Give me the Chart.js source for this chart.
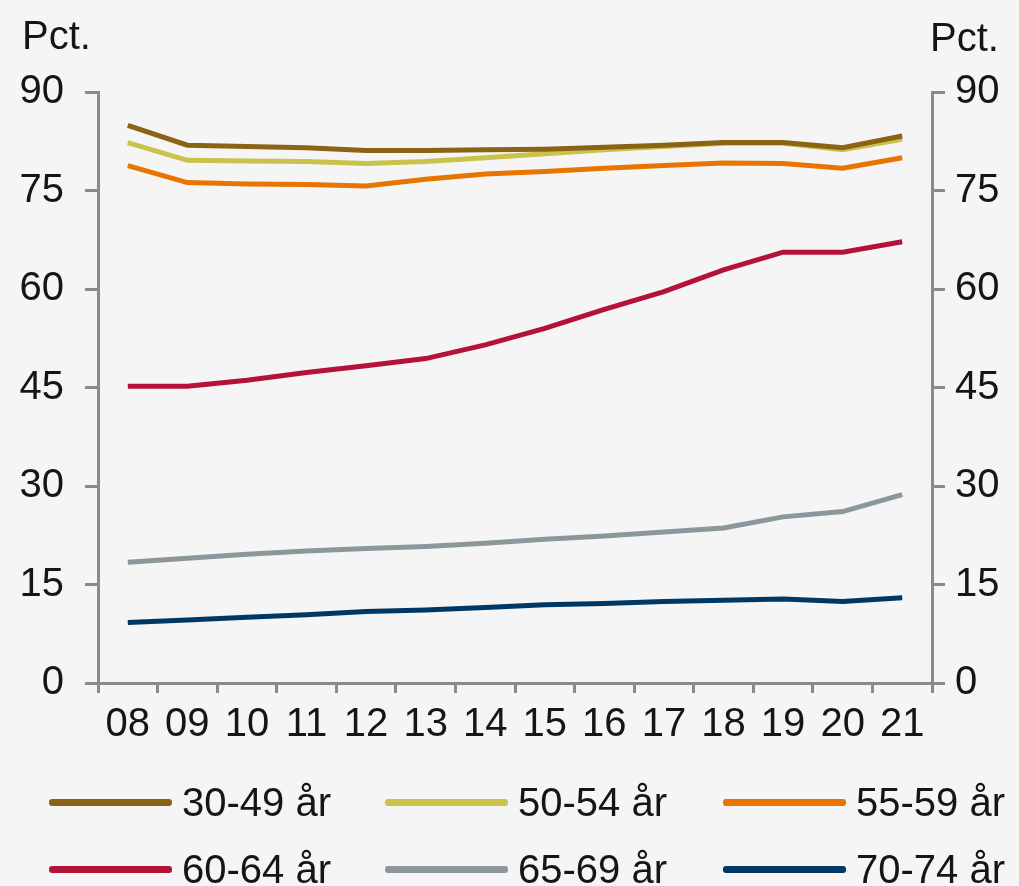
<!DOCTYPE html>
<html>
<head>
<meta charset="utf-8">
<script src="https://cdn.jsdelivr.net/npm/chart.js@4.4.1/dist/chart.umd.min.js"></script>
<style>
  html, body { margin: 0; padding: 0; background: #f5f5f5; }
  #wrap { position: relative; width: 1019px; height: 886px; font-family: "Liberation Sans", Arial, sans-serif; }
  #legend { position: absolute; left: 0; top: 0; width: 1019px; height: 886px; pointer-events: none; }
  .item { position: absolute; display: flex; align-items: center; font-size: 40px; color: #151515; white-space: nowrap; }
  .item span.swatch { display: inline-block; width: 123px; height: 7px; border-radius: 3px; margin-right: 10px; }
</style>
</head>
<body>
<div id="wrap">
  <canvas id="chart" width="1019" height="886"></canvas>
  <div id="legend"></div>
</div>
<script>
// values, percent
const years = ['08', '09', '10', '11', '12', '13', '14', '15', '16', '17', '18', '19', '20', '21'];
const age3049 = [84.9, 81.9, 81.7, 81.5, 81.1, 81.1, 81.2, 81.3, 81.6, 81.9, 82.3, 82.3, 81.5, 83.3];
const age5054 = [82.3, 79.6, 79.5, 79.4, 79.1, 79.4, 80.0, 80.6, 81.2, 81.7, 82.2, 82.2, 81.2, 82.8];
const age5559 = [78.8, 76.2, 76.0, 75.9, 75.7, 76.7, 77.5, 77.9, 78.4, 78.8, 79.2, 79.1, 78.4, 80.0];
const age6064 = [45.2, 45.2, 46.1, 47.3, 48.3, 49.4, 51.5, 54.0, 56.9, 59.6, 62.9, 65.6, 65.6, 67.2];
const age6569 = [18.4, 19.0, 19.6, 20.1, 20.5, 20.8, 21.3, 21.9, 22.4, 23.0, 23.6, 25.3, 26.1, 28.7];
const age7074 = [9.2, 9.6, 10.0, 10.4, 10.9, 11.1, 11.5, 11.9, 12.1, 12.4, 12.6, 12.8, 12.4, 13.0];
const yTicks = [0, 15, 30, 45, 60, 75, 90];

const series = [
    { label: '30-49 år', data: age3049, color: '#8a6414' },
    { label: '50-54 år', data: age5054, color: '#c9c34c' },
    { label: '55-59 år', data: age5559, color: '#e87500' },
    { label: '60-64 år', data: age6064, color: '#b5123a' },
    { label: '65-69 år', data: age6569, color: '#8c979c' },
    { label: '70-74 år', data: age7074, color: '#003865' }
];

const axisColor = '#8a8a8a';
const font = { family: '"Liberation Sans", Arial, sans-serif', size: 40 };

// "Pct." over both axes
const pctLabels = {
    id: 'pctLabels',
    afterDraw(chart) {
        const ctx = chart.ctx;
        ctx.save();
        ctx.font = '40px "Liberation Sans", Arial, sans-serif';
        ctx.fillStyle = '#151515';
        ctx.textBaseline = 'middle';
        ctx.textAlign = 'left';
        ctx.fillText('Pct.', 22, 38);
        ctx.fillText('Pct.', 930, 40);
        ctx.restore();
    }
};

function yAxis(position, padding, width) {
    return {
        type: 'linear',
        position: position,
        min: 0,
        max: 90,
        afterBuildTicks: s => { s.ticks = yTicks.map(v => ({ value: v })); },
        afterFit: s => { s.width = width; },
        border: { color: axisColor, width: 3 },
        grid: { drawOnChartArea: false, color: axisColor, lineWidth: 3, tickLength: 13 },
        ticks: { color: '#151515', font: font, padding: padding }
    };
}

const chart = new Chart(document.getElementById('chart').getContext('2d'), {
    type: 'line',
    data: {
        labels: years,
        datasets: series.map(s => ({
            label: s.label,
            data: s.data,
            borderColor: s.color,
            backgroundColor: s.color,
            borderWidth: 5,
            pointRadius: 0,
            tension: 0,
            yAxisID: 'y'
        }))
    },
    options: {
        responsive: false,
        animation: false,
        layout: { padding: { top: 92, bottom: 133, left: 0, right: 0 } },
        plugins: { legend: { display: false }, tooltip: { enabled: false } },
        scales: {
            x: {
                offset: true,
                afterFit: s => { s.height = 70; },
                border: { color: axisColor, width: 3 },
                grid: { offset: true, drawOnChartArea: false, color: axisColor, lineWidth: 3, tickLength: 10 },
                ticks: { color: '#151515', font: font, padding: 8, maxRotation: 0, autoSkip: false }
            },
            y: yAxis('left', 21, 98),
            y2: yAxis('right', 10, 87)
        }
    },
    plugins: [pctLabels]
});

// legend, two rows of three
const legend = document.getElementById('legend');
const cols = [49, 385, 723];
const rows = [802, 869];
series.forEach((s, i) => {
    const el = document.createElement('div');
    el.className = 'item';
    el.style.left = cols[i % 3] + 'px';
    el.style.top = (rows[Math.floor(i / 3)] - 22) + 'px';
    el.style.height = '44px';
    el.innerHTML = '<span class="swatch" style="background:' + s.color + '"></span>' + s.label;
    legend.appendChild(el);
});
</script>
</body>
</html>
